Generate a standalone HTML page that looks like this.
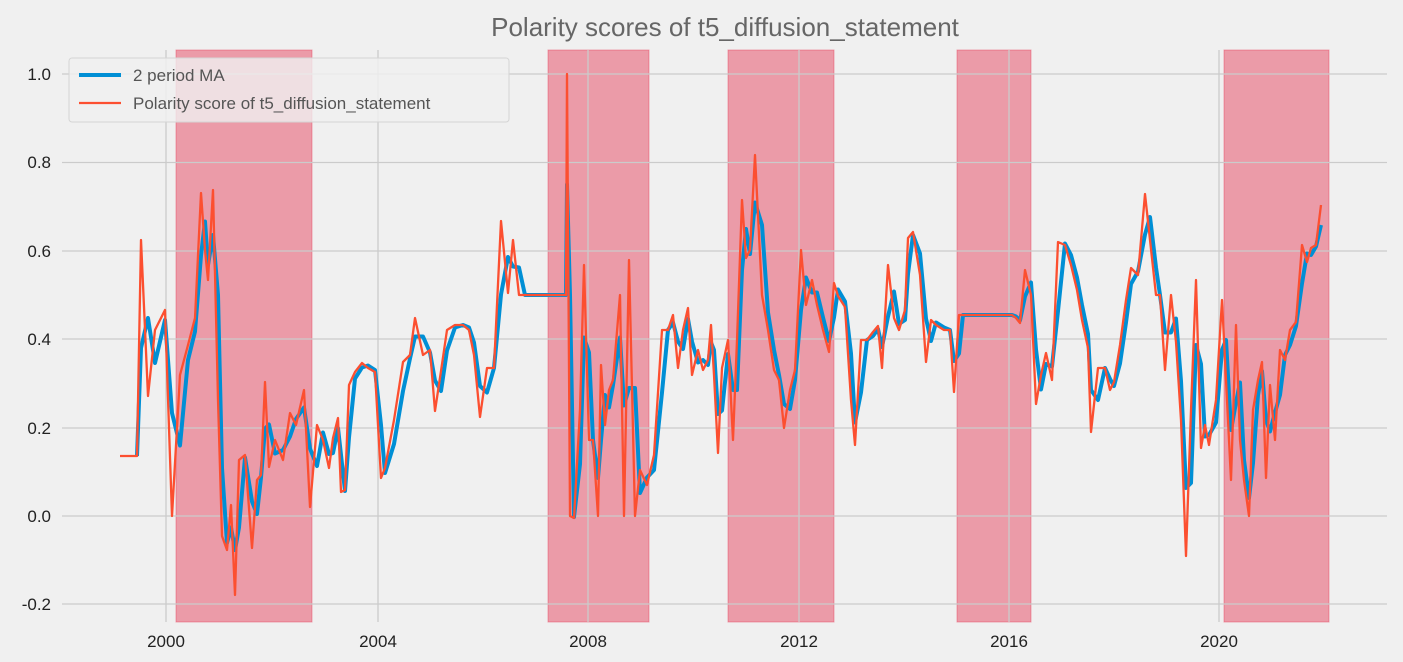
<!DOCTYPE html>
<html><head><meta charset="utf-8"><style>
body{margin:0;background:#f0f0f0;}
svg{display:block;font-family:"Liberation Sans","Noto Sans CJK KR",sans-serif;}
</style></head><body>
<svg id="s" width="1403" height="662" viewBox="0 0 1403 662">
<rect width="1403" height="662" fill="#f0f0f0"/>
<g fill="#e5334f" fill-opacity="0.45" stroke="#e5334f" stroke-opacity="0.4">
<rect x="176" y="50" width="136" height="572"/>
<rect x="548" y="50" width="101" height="572"/>
<rect x="728" y="50" width="106" height="572"/>
<rect x="957" y="50" width="74" height="572"/>
<rect x="1224" y="50" width="105" height="572"/>
</g>
<g stroke="#cbcbcb" stroke-width="1.3">
<line x1="62" x2="1387" y1="74" y2="74"/><line x1="62" x2="1387" y1="162.5" y2="162.5"/>
<line x1="62" x2="1387" y1="251" y2="251"/><line x1="62" x2="1387" y1="339" y2="339"/>
<line x1="62" x2="1387" y1="428" y2="428"/><line x1="62" x2="1387" y1="516" y2="516"/>
<line x1="62" x2="1387" y1="604" y2="604"/>
<line x1="166" x2="166" y1="50" y2="622"/><line x1="378" x2="378" y1="50" y2="622"/>
<line x1="588" x2="588" y1="50" y2="622"/><line x1="799" x2="799" y1="50" y2="622"/>
<line x1="1009" x2="1009" y1="50" y2="622"/><line x1="1219" x2="1219" y1="50" y2="622"/>
</g>
<text x="725" y="36" font-size="26" fill="#666" text-anchor="middle">Polarity scores of t5_diffusion_statement</text>
<polyline id="b" fill="none" stroke="#008fd5" stroke-width="4" stroke-linejoin="round"/>
<polyline id="r" fill="none" stroke="#fc4f30" stroke-width="2.3" stroke-linejoin="round"/>
<rect x="69" y="58" width="440" height="64" rx="3" fill="#f0f0f0" fill-opacity="0.8" stroke="#d5d5d5"/>
<line x1="79" x2="121" y1="75" y2="75" stroke="#008fd5" stroke-width="4"/>
<line x1="79" x2="121" y1="103" y2="103" stroke="#fc4f30" stroke-width="2.3"/>
<text x="133" y="81" font-size="17" fill="#555">2 period MA</text>
<text x="133" y="109" font-size="17" fill="#555">Polarity score of t5_diffusion_statement</text>
<g font-size="17" fill="#222" text-anchor="end">
<text x="51" y="80">1.0</text><text x="51" y="168">0.8</text><text x="51" y="257">0.6</text>
<text x="51" y="345">0.4</text><text x="51" y="434">0.2</text><text x="51" y="522">0.0</text>
<text x="51" y="610">-0.2</text>
</g>
<g font-size="17" fill="#222" text-anchor="middle">
<text x="166" y="647">2000</text><text x="378" y="647">2004</text><text x="588" y="647">2008</text>
<text x="799" y="647">2012</text><text x="1009" y="647">2016</text><text x="1219" y="647">2020</text>
</g>
</svg>
<script>
var d=[120,456,133,456,137,456,141,240,148,396,155,330,165,310,172,516,180,375,188,345,195,318,201,193,205,250,208,280,213,190,218,400,222,536,227,550,231,505,235,595,239,460,245,455,252,548,257,480,261,475,265,382,269,467,275,440,283,460,290,413,296,425,304,390,310,507,317,425,323,440,329,468,333,438,338,418,341,492,345,490,349,385,355,372,362,363,368,368,375,372,381,478,385,468,394,420,403,362,410,355,415,318,423,355,430,350,435,411,441,371,447,330,455,325,463,325,469,330,474,355,480,417,487,368,494,368,501,221,508,293,513,240,519,295,525,295,566,295,567,74,570,516,574,518,580,410,584,265,589,440,593,440,598,516,601,365,605,425,609,390,613,380,620,295,624,516,629,260,635,516,640,470,647,485,654,455,662,330,668,330,673,315,678,368,683,330,688,308,692,375,698,350,703,370,708,360,711,325,714,375,718,453,722,368,728,340,733,440,737,340,742,200,746,258,750,250,755,155,762,295,768,330,774,370,779,380,784,428,790,390,795,370,801,250,806,305,812,280,817,305,823,330,829,352,834,283,838,296,845,307,851,400,855,445,861,340,867,340,873,332,878,326,882,368,888,265,894,318,899,330,905,310,908,238,913,232,920,275,926,362,931,320,936,325,944,330,950,330,954,392,959,315,963,315,970,315,975,315,1012,315,1016,318,1020,323,1025,270,1031,295,1036,404,1041,375,1046,353,1052,380,1058,242,1065,245,1071,265,1077,290,1082,320,1088,348,1091,432,1098,368,1105,368,1110,390,1114,382,1120,345,1126,300,1131,268,1138,275,1145,194,1150,240,1156,295,1160,295,1165,370,1171,295,1176,342,1181,420,1186,556,1191,410,1196,280,1201,448,1205,425,1209,445,1216,400,1222,300,1226,380,1231,480,1236,325,1240,440,1244,480,1249,516,1253,410,1258,380,1262,362,1266,478,1270,385,1275,440,1280,350,1285,360,1290,330,1296,322,1302,245,1307,262,1311,248,1316,245,1321,205];
var r=[],b=[];
for(var i=0;i<d.length;i+=2){r.push(d[i]+','+d[i+1]);if(i>=4)b.push(d[i]+','+((d[i+1]+d[i-1])/2));}
document.getElementById('r').setAttribute('points',r.join(' '));
document.getElementById('b').setAttribute('points',b.join(' '));
</script>
</body></html>
